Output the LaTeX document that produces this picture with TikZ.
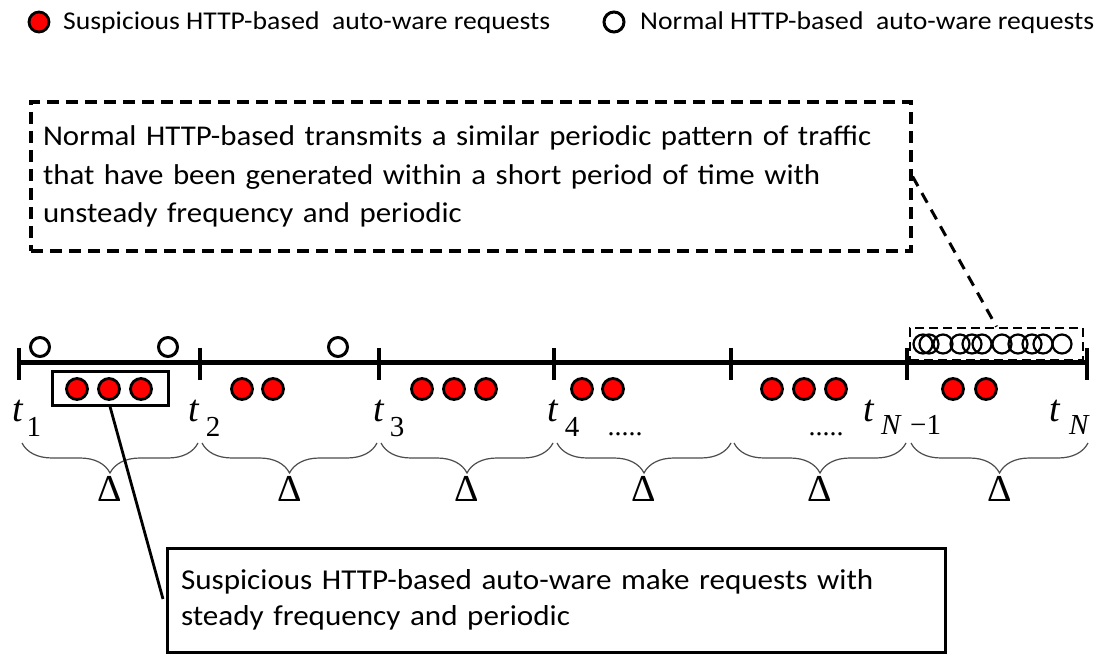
\documentclass[tikz,border=0pt]{standalone}
\usepackage{fontspec}
\setmainfont{Carlito}[FakeStretch=1.08]
\newfontfamily\tms{Liberation Serif}
\usetikzlibrary{decorations.pathreplacing}
\begin{document}
\begin{tikzpicture}[x=1pt,y=-1pt,
  redball/.style={circle,draw=black,fill=red,line width=2.8pt,minimum size=21pt,inner sep=0pt},
  hball/.style={circle,draw=black,line width=3pt,minimum size=19pt,inner sep=0pt},
  sball/.style={circle,draw=black,line width=2.2pt,minimum size=19pt,inner sep=0pt},
  tickmark/.style={line width=3.5pt},
  dashbox/.style={draw=black,line width=3.2pt,dash pattern=on 12pt off 7pt},
  plainbox/.style={draw=black,line width=3pt},
  txt/.style={inner sep=0pt,font=\fontsize{28.6}{38.5}\selectfont},
  legtxt/.style={inner sep=0pt,anchor=base west,font=\fontsize{25.6}{28}\selectfont},
  tlab/.style={inner sep=0pt,anchor=base,font=\tms\itshape\fontsize{38}{38}\selectfont},
  sublab/.style={inner sep=0pt,anchor=base,font=\tms\fontsize{29}{29}\selectfont},
  dotlab/.style={inner sep=0pt,anchor=base,font=\tms\fontsize{28}{28}\selectfont},
  tri/.style={inner sep=0pt,anchor=base,font=\tms\fontsize{38}{38}\selectfont},
  bracestyle/.style={draw=black!70,line width=1.2pt,decorate,decoration={brace,amplitude=30pt,mirror}}
]
\useasboundingbox (0,0) rectangle (1096,655);

% legend
\node[redball,minimum size=20pt] (lr) at (39,22) {};
\node[legtxt] (lrt) at (63,30) {Suspicious HTTP-based\ \ auto-ware\ requests};
\node[hball,minimum size=20pt] (lh) at (614,22) {};
\node[legtxt] (lht) at (640,30) {Normal HTTP-based\ \ auto-ware\ requests};

% dashed explanation box
\node[dashbox,txt,minimum width=880pt,minimum height=149pt,text width=856pt,inner xsep=12pt,align=left] (nbox) at (471,176.5)
 {Normal HTTP-based transmits a similar periodic pattern of traffic\\
  that have been generated within a short period of time with\\
  unsteady frequency and periodic};

% small dashed box with dense normal requests
\node[dashbox,line width=2.6pt,dash pattern=on 9pt off 5pt,minimum width=173pt,minimum height=32pt] (sbox) at (996.5,344) {};
\foreach \x [count=\k] in {923,929,943,960,972,982,1002,1018,1032,1043,1062}
  \node[sball] (s\k) at (\x,344) {};
\draw[line width=3pt,dash pattern=on 11pt off 8pt] (nbox.east) -- (sbox.north);

% timeline
\foreach \i/\x in {0/19,1/200,2/379,3/554,4/731,5/907,6/1087}
  \coordinate (T\i) at (\x,362);
\draw[line width=5pt] (T0) -- (T6);
\foreach \i in {0,...,6}
  \draw[tickmark] (T\i) ++(0,-14) -- ++(0,32);

% normal requests above line
\node[hball] (h1) at (40,347) {};
\node[hball] (h2) at (168,347) {};
\node[hball] (h3) at (338,347) {};

% suspicious requests
\foreach \x [count=\k] in {77,109,141} \node[redball] (a\k) at (\x,389) {};
\foreach \x [count=\k] in {242,273} \node[redball] (b\k) at (\x,389) {};
\foreach \x [count=\k] in {422,454,486} \node[redball] (c\k) at (\x,389) {};
\foreach \x [count=\k] in {582,613} \node[redball] (d\k) at (\x,389) {};
\foreach \x [count=\k] in {772,804,836} \node[redball] (e\k) at (\x,389) {};
\foreach \x [count=\k] in {953,986} \node[redball] (f\k) at (\x,389) {};
\node[plainbox,minimum width=116pt,minimum height=34pt,inner sep=0pt] (gbox) at (110,388) {};

% time labels
\node[tlab] (t1) at (18,421) {t};  \node[sublab] (t1s) at (34,436) {1};
\node[tlab] (t2) at (194,421) {t}; \node[sublab] (t2s) at (213,436) {2};
\node[tlab] (t3) at (379,421) {t}; \node[sublab] (t3s) at (397,436) {3};
\node[tlab] (t4) at (553,421) {t}; \node[sublab] (t4s) at (572,436) {4};
\node[dotlab] (dots1) at (625,435) {.....};
\node[dotlab] (dots2) at (826,435) {.....};
\node[tlab] (tn1) at (869,421) {t};
\node[sublab,anchor=base west] (tn1s) at (881,434) {{\itshape N}\,\,−1};
\node[tlab] (tn) at (1055,421) {t};
\node[sublab,anchor=base west] (tns) at (1069,434) {\itshape N};

% braces and deltas
\foreach \a/\b [count=\k] in {22/198,202/377,381/553,557/731,734/906,911/1088} {
  \coordinate (bs\k) at (\a,443);
  \coordinate (be\k) at (\b,443);
  \draw[bracestyle] (bs\k) -- (be\k);
  \node[tri] (tri\k) at ({(\a+\b)/2},501) {Δ};
}

% suspicious explanation box
\node[plainbox,txt,minimum width=778pt,minimum height=104pt,text width=750pt,inner xsep=14pt,align=left,
  font=\fontsize{28.8}{36.5}\selectfont] (sbox2) at (556,600)
 {Suspicious HTTP-based auto-ware make requests with\\
  steady frequency and periodic};
\coordinate (cend) at (163,599);
\draw[line width=2.8pt] (gbox.south) -- (cend);
\end{tikzpicture}
\end{document}
